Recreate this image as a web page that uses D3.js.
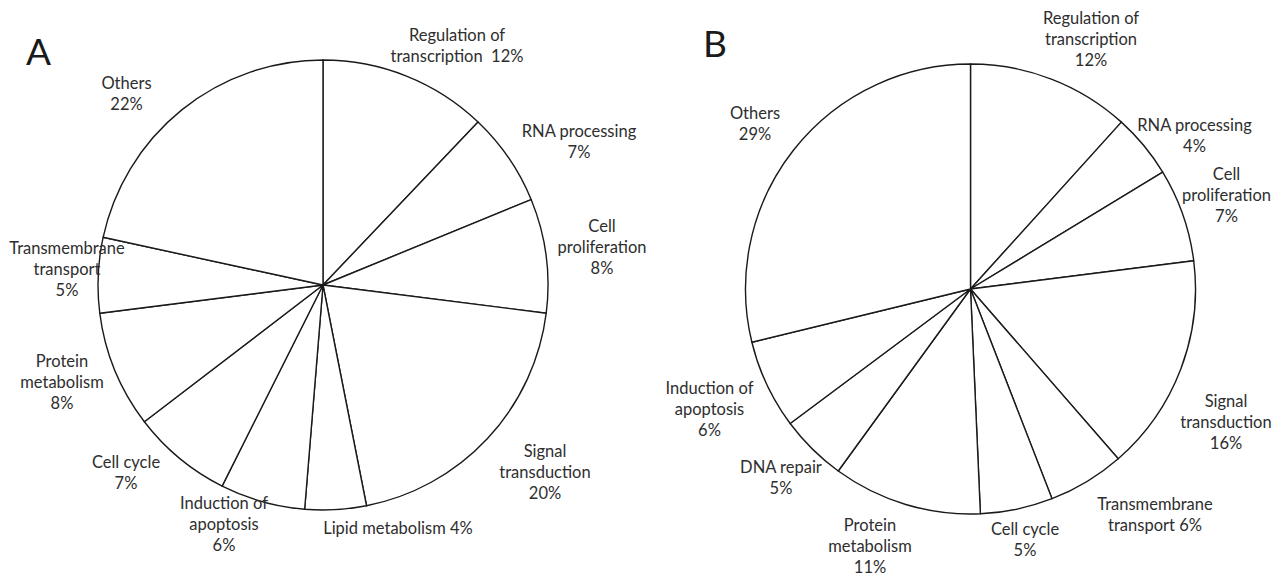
<!DOCTYPE html>
<html><head><meta charset="utf-8">
<script src="https://cdn.jsdelivr.net/npm/d3@7"></script>
<style>body{margin:0;background:#fff}svg{display:block}</style>
</head><body>
<script>
// ---- data ----
const categoriesA = ["Regulation of\ntranscription", "RNA processing", "Cell\nproliferation", "Signal\ntransduction", "Lipid metabolism", "Induction of\napoptosis", "Cell cycle", "Protein\nmetabolism", "Transmembrane\ntransport", "Others"];
const valuesA = [12.1, 6.7, 8.2, 19.9, 4.4, 6.1, 7.2, 8.4, 5.4, 21.6];
const pctA = [12, 7, 8, 20, 4, 6, 7, 8, 5, 22];

const categoriesB = ["Regulation of\ntranscription", "RNA processing", "Cell\nproliferation", "Signal\ntransduction", "Transmembrane\ntransport", "Cell cycle", "Protein\nmetabolism", "DNA repair", "Induction of\napoptosis", "Others"];
const valuesB = [11.7, 4.6, 6.7, 15.6, 5.5, 5.2, 10.7, 4.8, 6.4, 28.8];
const pctB = [12, 4, 7, 16, 6, 5, 11, 5, 6, 29];

// ---- layout (label anchor: centre x, first baseline y; same = percent on last name line) ----
const layoutA = {
  title: "A", tx: 26, ty: 65, cx: 323, cy: 285, r: 225,
  labels: [
    {x: 457, y: 40.7, same: true, sep: "  "}, {x: 579, y: 136.7}, {x: 602, y: 231.7},
    {x: 545, y: 456.7}, {x: 398, y: 534, same: true, sep: " "}, {x: 224, y: 509.3},
    {x: 126, y: 467.7}, {x: 62, y: 367.3}, {x: 67, y: 254}, {x: 126.5, y: 89}
  ]
};
const layoutB = {
  title: "B", tx: 703, ty: 57, cx: 970.5, cy: 289, r: 225,
  labels: [
    {x: 1091, y: 24}, {x: 1194.5, y: 131}, {x: 1226.5, y: 180},
    {x: 1226, y: 406.7}, {x: 1155, y: 510, same: true, sep: " "}, {x: 1025, y: 535},
    {x: 870, y: 530.7}, {x: 781, y: 473.3}, {x: 709.5, y: 394}, {x: 755, y: 119}
  ]
};

const W = 1283, H = 576, LH = 21;
const svg = d3.select("body").append("svg").attr("width", W).attr("height", H)
  .style("font-family", "Lato, 'Open Sans', sans-serif");

function drawPie(cats, vals, pcts, L) {
  const g = svg.append("g").attr("transform", `translate(${L.cx},${L.cy})`);
  const pie = d3.pie().sort(null).value(d => d)(vals);
  const arc = d3.arc().innerRadius(0).outerRadius(L.r);
  g.selectAll("path").data(pie).join("path")
    .attr("d", arc).attr("fill", "#fff")
    .attr("stroke", "#1a1a1a").attr("stroke-width", 1.4).attr("stroke-linejoin", "round");

  svg.append("text").attr("x", L.tx).attr("y", L.ty)
    .attr("font-size", 37).attr("fill", "#1a1a1a").text(L.title);

  cats.forEach((c, i) => {
    const lay = L.labels[i];
    let lines = c.split("\n");
    if (lay.same) lines[lines.length - 1] += lay.sep + pcts[i] + "%";
    else lines.push(pcts[i] + "%");
    const t = svg.append("text").attr("text-anchor", "middle")
      .attr("font-size", 16.5).attr("fill", "#2e2e2e")
      .attr("xml:space", "preserve").style("white-space", "pre");
    lines.forEach((ln, k) => {
      t.append("tspan").attr("x", lay.x).attr("y", lay.y + k * LH).text(ln);
    });
  });
}
drawPie(categoriesA, valuesA, pctA, layoutA);
drawPie(categoriesB, valuesB, pctB, layoutB);
</script>
</body></html>
